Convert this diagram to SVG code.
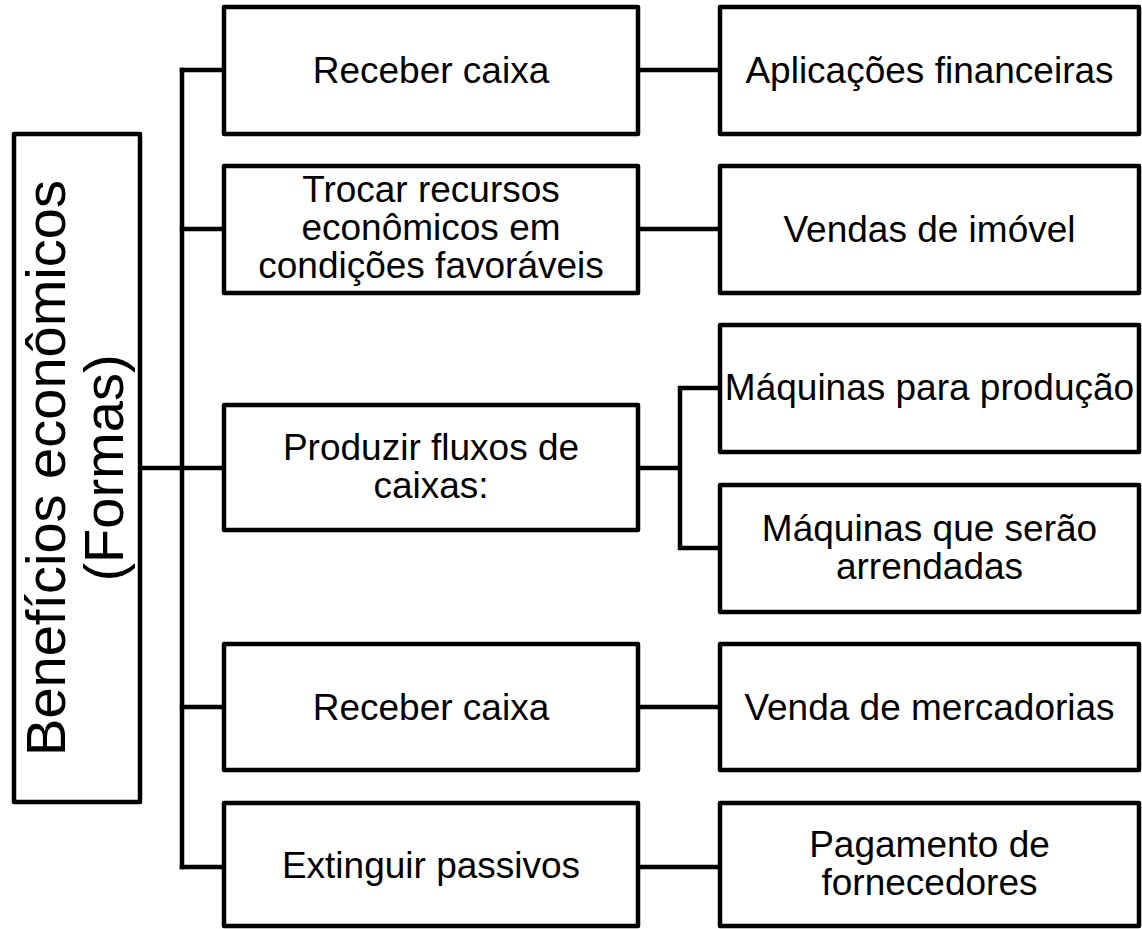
<svg xmlns="http://www.w3.org/2000/svg" width="1142" height="929" viewBox="0 0 1142 929">
<style>
.box{fill:#fff;stroke:#000;stroke-width:4.5;stroke-linejoin:round}
.ln{fill:none;stroke:#000;stroke-width:4.5;stroke-linejoin:round;stroke-linecap:square}
text{font-family:"Liberation Sans",Arial,sans-serif;font-size:37px;fill:#000;text-anchor:middle}
.big{font-size:56px}
</style>
<rect width="1142" height="929" fill="#fff"/>
<g id="connectors">
<path class="ln" d="M182,70 V867"/>
<path class="ln" d="M140,468 H224"/>
<path class="ln" d="M182,70 H224 M182,229 H224 M182,707 H224 M182,867 H224"/>
<path class="ln" d="M638,70 H720 M638,229 H720 M638,707 H720 M638,867 H720"/>
<path class="ln" d="M638,468 H680 M680,388 V548 M680,388 H720 M680,548 H720"/>
</g>
<g id="root">
<rect class="box" x="14" y="134" width="126" height="668"/>
<g transform="translate(0,468) rotate(-90)">
<text class="big" x="0" y="65">Benefícios econômicos</text>
<text class="big" x="0" y="123">(Formas)</text>
</g>
</g>
<g id="m1"><rect class="box" x="224" y="7" width="414" height="127"/><text x="431" y="83">Receber caixa</text></g>
<g id="m2"><rect class="box" x="224" y="166" width="414" height="127"/><text x="431" y="202">Trocar recursos</text><text x="431" y="240">econômicos em</text><text x="431" y="278">condições favoráveis</text></g>
<g id="m3"><rect class="box" x="224" y="405" width="414" height="125"/><text x="431" y="460">Produzir fluxos de</text><text x="431" y="498">caixas:</text></g>
<g id="m4"><rect class="box" x="224" y="644" width="414" height="126"/><text x="431" y="720">Receber caixa</text></g>
<g id="m5"><rect class="box" x="224" y="803" width="414" height="123"/><text x="431" y="878">Extinguir passivos</text></g>
<g id="r1"><rect class="box" x="720" y="7" width="419" height="127"/><text x="929.5" y="83">Aplicações financeiras</text></g>
<g id="r2"><rect class="box" x="720" y="166" width="419" height="127"/><text x="929.5" y="242">Vendas de imóvel</text></g>
<g id="r3"><rect class="box" x="720" y="325" width="419" height="127"/><text x="929.5" y="400">Máquinas para produção</text></g>
<g id="r4"><rect class="box" x="720" y="485" width="419" height="127"/><text x="929.5" y="541">Máquinas que serão</text><text x="929.5" y="579">arrendadas</text></g>
<g id="r5"><rect class="box" x="720" y="644" width="419" height="126"/><text x="929.5" y="720">Venda de mercadorias</text></g>
<g id="r6"><rect class="box" x="720" y="803" width="419" height="123"/><text x="929.5" y="857">Pagamento de</text><text x="929.5" y="895">fornecedores</text></g>
</svg>
